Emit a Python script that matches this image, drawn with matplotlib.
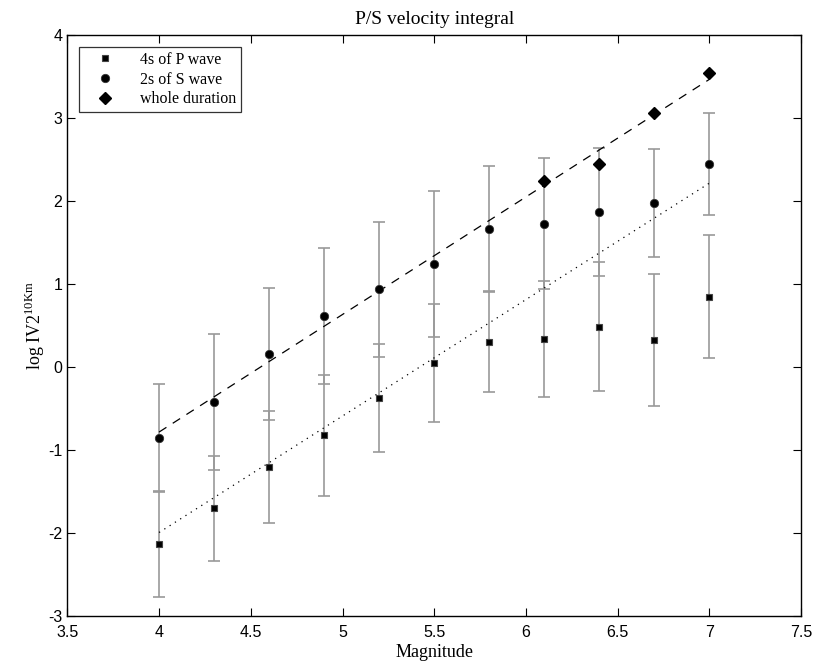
import numpy as np
import matplotlib
matplotlib.use("Agg")
import matplotlib.pyplot as plt

# magnitudes
mag = [4.0, 4.3, 4.6, 4.9, 5.2, 5.5, 5.8, 6.1, 6.4, 6.7, 7.0]

# 4s of P wave
p_val = [-2.13, -1.70, -1.20, -0.82, -0.37, 0.05, 0.31, 0.34, 0.49, 0.33, 0.85]
p_err = [0.64, 0.63, 0.67, 0.73, 0.65, 0.71, 0.61, 0.70, 0.78, 0.80, 0.74]

# 2s of S wave
s_val = [-0.85, -0.42, 0.16, 0.62, 0.94, 1.25, 1.67, 1.73, 1.87, 1.98, 2.45]
s_err = [0.65, 0.82, 0.80, 0.82, 0.81, 0.88, 0.76, 0.79, 0.77, 0.65, 0.61]

# whole duration
w_mag = [6.1, 6.4, 6.7, 7.0]
w_val = [2.25, 2.45, 3.07, 3.55]

# fitted lines (end values at M=4 and M=7)
fit_x = [4.0, 7.0]
fit_s = [-0.78, 3.47]
fit_p = [-1.99, 2.22]

plt.rcParams['mathtext.fontset'] = 'custom'
plt.rcParams['mathtext.rm'] = 'Liberation Serif'
plt.rcParams['axes.unicode_minus'] = False
serif = 'Liberation Serif'
sans = 'Liberation Sans'

fig = plt.figure(figsize=(8.14, 6.65), dpi=100)
ax = fig.add_axes([0.0827, 0.0732, 0.9016, 0.8737])

ecol = '#999999'
ax.errorbar(mag, p_val, yerr=p_err, fmt='none', ecolor=ecol, elinewidth=1.2,
            capsize=4, capthick=1.2, zorder=2)
ax.errorbar(mag, s_val, yerr=s_err, fmt='none', ecolor=ecol, elinewidth=1.2,
            capsize=4, capthick=1.2, zorder=2)

ax.plot(fit_x, fit_s, color='black', lw=0.9, dashes=(7, 6), zorder=3)
ax.plot(fit_x, fit_p, color='black', lw=0.9, dashes=(1, 4), zorder=3)

ax.plot(mag, p_val, 's', color='black', ms=4.5, mec='#444444', mew=0.8,
        label='4s of P wave', zorder=4)
ax.plot(mag, s_val, 'o', color='black', ms=6, mec='#333333', mew=0.6,
        label='2s of S wave', zorder=4)
ax.plot(w_mag, w_val, 'D', color='black', ms=6.5, label='whole duration', zorder=4)

ax.set_xlim(3.5, 7.5)
ax.set_ylim(-3, 4)
ax.set_xticks(np.arange(3.5, 7.51, 0.5))
ax.set_yticks(np.arange(-3, 4.01, 1))
ax.set_xticklabels(['3.5', '4', '4.5', '5', '5.5', '6', '6.5', '7', '7.5'])
ax.tick_params(direction='in', top=True, right=True, length=6, width=0.8,
               labelsize=11.5)
ax.tick_params(axis='x', pad=6)
for lab in ax.get_xticklabels() + ax.get_yticklabels():
    lab.set_fontfamily(sans)
for sp in ax.spines.values():
    sp.set_linewidth(1.0)

ax.set_title('P/S velocity integral', fontfamily=serif, fontsize=14, pad=8)
ax.set_xlabel('Magnitude', fontfamily=serif, fontsize=13, labelpad=3)
ax.set_ylabel(r'log IV2$^{\mathrm{10Km}}$', fontfamily=serif, fontsize=13,
              labelpad=1)

leg = ax.legend(loc='upper left', prop={'family': serif, 'size': 11.5},
                frameon=True, fancybox=False, edgecolor='black',
                borderaxespad=0.75, handlelength=2.6, handletextpad=0.9,
                labelspacing=0.22, borderpad=0.3, numpoints=1)
leg.get_frame().set_linewidth(0.9)

fig.savefig('out.png', dpi=100)
